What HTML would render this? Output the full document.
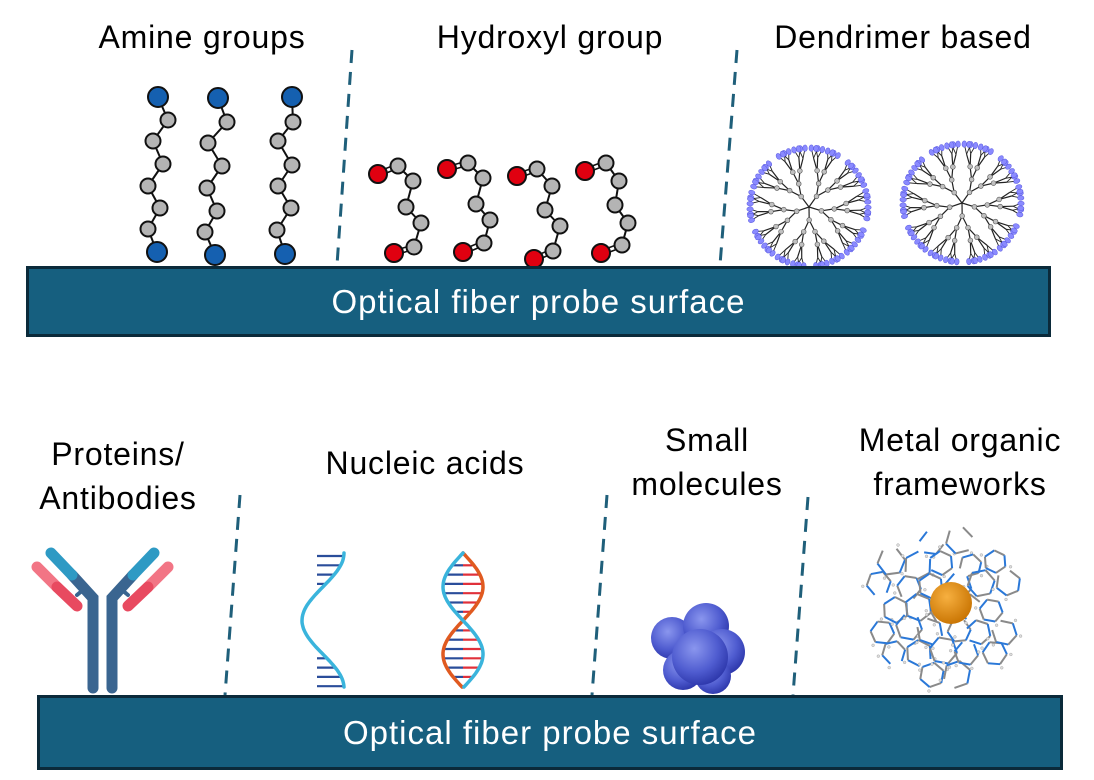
<!DOCTYPE html>
<html><head><meta charset="utf-8">
<style>
html,body{margin:0;padding:0;background:#fff;}
body{width:1094px;height:780px;overflow:hidden;position:relative;font-family:"Liberation Sans",Arial,sans-serif;}
.l{position:absolute;font-size:32px;letter-spacing:0.8px;color:#000;text-align:center;white-space:nowrap;line-height:44px;}
.bar{position:absolute;background:#165f7f;border:3px solid #0b2a3a;color:#fff;font-size:33px;letter-spacing:1px;text-align:center;box-sizing:border-box;}
svg{position:absolute;left:0;top:0;}
</style></head><body>
<svg id="s" width="1094" height="780" viewBox="0 0 1094 780">
<g stroke="#1f5f7a" stroke-width="3" stroke-dasharray="13 9" fill="none">
<line x1="352" y1="50" x2="337" y2="265"/>
<line x1="737" y1="50" x2="720" y2="265"/>
<line x1="240" y1="495" x2="225" y2="695"/>
<line x1="607" y1="495" x2="592" y2="695"/>
<line x1="808" y1="497" x2="793" y2="695"/>
</g>
<g id="mol"></g>
<g stroke-linecap="round" fill="none">
<line x1="77" y1="595" x2="83" y2="590" stroke="#3a6590" stroke-width="4"/>
<line x1="128" y1="595" x2="122" y2="590" stroke="#3a6590" stroke-width="4"/>
<path d="M93 688 V598 L72 575" stroke="#3a6590" stroke-width="11"/>
<path d="M112 688 V598 L133 575" stroke="#3a6590" stroke-width="11"/>
<line x1="72" y1="575" x2="51" y2="553" stroke="#2e9ac4" stroke-width="11"/>
<line x1="133" y1="575" x2="154" y2="553" stroke="#2e9ac4" stroke-width="11"/>
<line x1="37" y1="567" x2="57" y2="587" stroke="#f27585" stroke-width="11"/>
<line x1="57" y1="587" x2="77" y2="606" stroke="#e84a60" stroke-width="11"/>
<line x1="168" y1="567" x2="148" y2="587" stroke="#f27585" stroke-width="11"/>
<line x1="148" y1="587" x2="128" y2="606" stroke="#e84a60" stroke-width="11"/>
</g>
<g id="dna"></g>
<defs>
<radialGradient id="bs" cx="0.4" cy="0.35" r="0.7"><stop offset="0" stop-color="#8a96ee"/><stop offset="0.6" stop-color="#4f5cd0"/><stop offset="1" stop-color="#2a34a8"/></radialGradient>
<radialGradient id="os" cx="0.4" cy="0.35" r="0.7"><stop offset="0" stop-color="#f7b040"/><stop offset="1" stop-color="#c77200"/></radialGradient>
</defs>
<g>
<circle cx="672" cy="638" r="21" fill="url(#bs)"/>
<circle cx="706" cy="626" r="23" fill="url(#bs)"/>
<circle cx="722" cy="652" r="23" fill="url(#bs)"/>
<circle cx="683" cy="670" r="20" fill="url(#bs)"/>
<circle cx="713" cy="676" r="18" fill="url(#bs)"/>
<circle cx="700" cy="657" r="28" fill="url(#bs)"/>
</g>
<g id="mof"></g>
<circle cx="951" cy="603" r="21" fill="url(#os)"/>
</svg>
<div class="l" style="left:52px;top:15px;width:300px;">Amine groups</div>
<div class="l" style="left:400px;top:15px;width:300px;">Hydroxyl group</div>
<div class="l" style="left:743px;top:15px;width:320px;">Dendrimer based</div>
<div class="l" style="left:0px;top:432px;width:236px;">Proteins/<br>Antibodies</div>
<div class="l" style="left:280px;top:441px;width:290px;">Nucleic acids</div>
<div class="l" style="left:597px;top:418px;width:220px;">Small<br>molecules</div>
<div class="l" style="left:820px;top:418px;width:280px;">Metal organic<br>frameworks</div>
<div class="bar" style="left:26px;top:266px;width:1025px;height:71px;line-height:66px;">Optical fiber probe surface</div>
<div class="bar" style="left:37px;top:695px;width:1026px;height:75px;line-height:70px;">Optical fiber probe surface</div>
<script>
var NS="http://www.w3.org/2000/svg";
function el(p,t,a){var e=document.createElementNS(NS,t);for(var k in a)e.setAttribute(k,a[k]);p.appendChild(e);return e;}
var mol=document.getElementById('mol');
function chain(pts,col,r,dbl){
 for(var i=0;i<pts.length-1;i++){var a=pts[i],b=pts[i+1];
  if(dbl&&(i==0||i==pts.length-2)){var dx=b[0]-a[0],dy=b[1]-a[1],L=Math.hypot(dx,dy),nx=-dy/L*2.2,ny=dx/L*2.2;
   el(mol,'line',{x1:a[0]+nx,y1:a[1]+ny,x2:b[0]+nx,y2:b[1]+ny,stroke:'#111','stroke-width':1.6});
   el(mol,'line',{x1:a[0]-nx,y1:a[1]-ny,x2:b[0]-nx,y2:b[1]-ny,stroke:'#111','stroke-width':1.6});}
  else el(mol,'line',{x1:a[0],y1:a[1],x2:b[0],y2:b[1],stroke:'#111','stroke-width':2});}
 pts.forEach(function(p,i){var e=(i==0||i==pts.length-1);
  el(mol,'circle',{cx:p[0],cy:p[1],r:e?r:7.5,fill:e?col:'#b4b4b4',stroke:'#111','stroke-width':2});});
}
[[[158,97],[168,120],[153,141],[163,164],[148,186],[160,208],[148,229],[157,252]],
[[218,98],[227,122],[208,143],[222,166],[207,188],[217,211],[205,232],[215,255]],
[[292,97],[293,122],[278,141],[292,165],[278,186],[291,208],[277,230],[285,254]]].forEach(function(c){chain(c,'#1560b0',10,false);});
[[[378,174],[398,166],[413,181],[406,207],[421,223],[414,247],[394,253]],
[[447,169],[468,163],[483,178],[476,204],[490,220],[484,243],[463,252]],
[[517,176],[537,169],[552,186],[545,210],[560,226],[553,251],[534,259]],
[[585,171],[606,163],[619,181],[615,205],[628,223],[622,245],[601,253]]].forEach(function(c){chain(c,'#e00010',9,true);});
function dend(cx,cy,R){
 var g=el(mol,'g',{});
 function br(x,y,ang,len,d){
  var x2=x+Math.cos(ang)*len,y2=y+Math.sin(ang)*len;
  el(g,'line',{x1:x,y1:y,x2:x2,y2:y2,stroke:'#222','stroke-width':1.2});
  if(d<3){
   var sp=[0.45,0.28,0.16][d];br(x2,y2,ang-sp,len,d+1);br(x2,y2,ang+sp,len,d+1);
   el(g,'circle',{cx:x2,cy:y2,r:2.4,fill:'#c0c0c0',stroke:'#555','stroke-width':0.6});}
  else{
   for(var s=-1;s<=1;s+=2){var aa=Math.atan2(y2-cy,x2-cx)+s*0.055;var ex=cx+Math.cos(aa)*R,ey=cy+Math.sin(aa)*R;
    el(g,'line',{x1:x2,y1:y2,x2:ex,y2:ey,stroke:'#222','stroke-width':0.9});
    el(g,'ellipse',{cx:ex,cy:ey,rx:3.2,ry:2.3,fill:'#8a8aff',stroke:'#5a5ae0','stroke-width':0.5,transform:'rotate('+(aa*57.3)+' '+ex+' '+ey+')'});}}
 }
 for(var i=0;i<5;i++){var a=i*Math.PI*2/5+0.3;br(cx,cy,a,13,0);}
}
dend(809,207,59);dend(962,203,59);
var dna=document.getElementById('dna');
function helix(cx,y0,y1,A,phase,col,w){var d='';for(var y=y0;y<=y1;y+=2){var t=(y-y0)/(y1-y0)*2*Math.PI;var x=cx+A*Math.cos(t+phase);d+=(y==y0?'M':'L')+x.toFixed(1)+' '+y;}
 el(dna,'path',{d:d,fill:'none',stroke:col,'stroke-width':w,'stroke-linecap':'round'});}
for(var y=556;y<=688;y+=9.3){var t=(y-553)/135*2*Math.PI;var x=323+21*Math.cos(t);if(x>321)el(dna,'line',{x1:317,y1:y,x2:x,y2:y,stroke:'#2a4d9a','stroke-width':2.2});}
helix(323,553,688,21,0,'#3ab4dc',3.5);
for(var y=556;y<=686;y+=9.3){var t=(y-553)/135*2*Math.PI+Math.PI/2;var xa=463+20*Math.cos(t),xb=463-20*Math.cos(t);var l=Math.min(xa,xb),r=Math.max(xa,xb),m=(l+r)/2;
 if(r-l>8){el(dna,'line',{x1:l,y1:y,x2:m,y2:y,stroke:'#2a4d9a','stroke-width':2.2});el(dna,'line',{x1:m,y1:y,x2:r,y2:y,stroke:'#e0303a','stroke-width':2.2});}}
helix(463,553,688,20,Math.PI*1.5,'#e05a20',3.5);
helix(463,553,688,20,Math.PI/2,'#3ab4dc',3.5);
var mof=document.getElementById('mof');var seed=11;function rnd(){seed=(seed*9301+49297)%233280;return seed/233280;}
var cx0=944,cy0=608;
for(var q=-4;q<=4;q++)for(var r=-4;r<=4;r++){
 var x=cx0+25*(q+r/2),y=cy0+22*r;
 var dd=Math.hypot((x-cx0)/1.05,(y-cy0));if(dd>70)continue;
 x+=(rnd()-0.5)*6;y+=(rnd()-0.5)*6;
 var n=6,rad=11+rnd()*3,off=rnd();
 for(var k=0;k<n;k++){var a1=off+k*2*Math.PI/n,a2=off+(k+1)*2*Math.PI/n;
  if(rnd()<0.15)continue;
  el(mof,'line',{x1:x+Math.cos(a1)*rad,y1:y+Math.sin(a1)*rad,x2:x+Math.cos(a2)*rad,y2:y+Math.sin(a2)*rad,stroke:(k%2?'#2a78d8':'#8a8a8a'),'stroke-width':2});
  if(rnd()<0.5){var hx=x+Math.cos(a1)*(rad+4),hy=y+Math.sin(a1)*(rad+4);el(mof,'circle',{cx:hx,cy:hy,r:1.4,fill:'#ddd',stroke:'#999','stroke-width':0.4});}}
}
</script>
</body></html>
